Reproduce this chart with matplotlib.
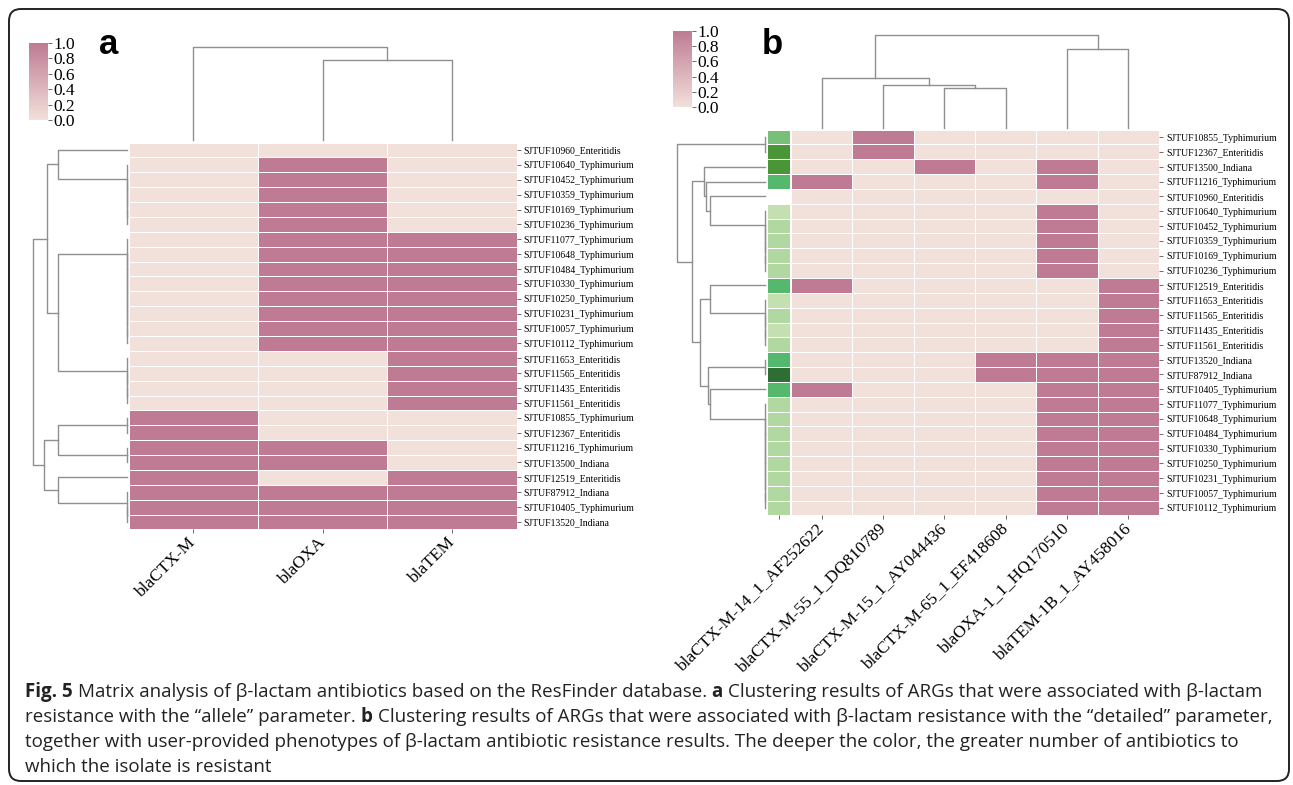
import numpy as np
import matplotlib
matplotlib.use("Agg")
import matplotlib.pyplot as plt
import matplotlib.colors as mcolors
from matplotlib.patches import FancyBboxPatch
from matplotlib import font_manager

W, H = 1293, 785

# ------------------------------
# Panel a: allele-level genes
# ------------------------------
genes_a = ["blaCTX-M", "blaOXA", "blaTEM"]
isolates_a = [
    "SJTUF10960_Enteritidis", "SJTUF10640_Typhimurium", "SJTUF10452_Typhimurium",
    "SJTUF10359_Typhimurium", "SJTUF10169_Typhimurium", "SJTUF10236_Typhimurium",
    "SJTUF11077_Typhimurium", "SJTUF10648_Typhimurium", "SJTUF10484_Typhimurium",
    "SJTUF10330_Typhimurium", "SJTUF10250_Typhimurium", "SJTUF10231_Typhimurium",
    "SJTUF10057_Typhimurium", "SJTUF10112_Typhimurium", "SJTUF11653_Enteritidis",
    "SJTUF11565_Enteritidis", "SJTUF11435_Enteritidis", "SJTUF11561_Enteritidis",
    "SJTUF10855_Typhimurium", "SJTUF12367_Enteritidis", "SJTUF11216_Typhimurium",
    "SJTUF13500_Indiana", "SJTUF12519_Enteritidis", "SJTUF87912_Indiana",
    "SJTUF10405_Typhimurium", "SJTUF13520_Indiana",
]
matrix_a = [
    [0, 0, 0],
    [0, 1, 0],
    [0, 1, 0],
    [0, 1, 0],
    [0, 1, 0],
    [0, 1, 0],
    [0, 1, 1],
    [0, 1, 1],
    [0, 1, 1],
    [0, 1, 1],
    [0, 1, 1],
    [0, 1, 1],
    [0, 1, 1],
    [0, 1, 1],
    [0, 0, 1],
    [0, 0, 1],
    [0, 0, 1],
    [0, 0, 1],
    [1, 0, 0],
    [1, 0, 0],
    [1, 1, 0],
    [1, 1, 0],
    [1, 0, 1],
    [1, 1, 1],
    [1, 1, 1],
    [1, 1, 1],
]

# ------------------------------
# Panel b: detailed genes + phenotype strip
# ------------------------------
genes_b = [
    "blaCTX-M-14_1_AF252622", "blaCTX-M-55_1_DQ810789", "blaCTX-M-15_1_AY044436",
    "blaCTX-M-65_1_EF418608", "blaOXA-1_1_HQ170510", "blaTEM-1B_1_AY458016",
]
isolates_b = [
    "SJTUF10855_Typhimurium", "SJTUF12367_Enteritidis", "SJTUF13500_Indiana",
    "SJTUF11216_Typhimurium", "SJTUF10960_Enteritidis", "SJTUF10640_Typhimurium",
    "SJTUF10452_Typhimurium", "SJTUF10359_Typhimurium", "SJTUF10169_Typhimurium",
    "SJTUF10236_Typhimurium", "SJTUF12519_Enteritidis", "SJTUF11653_Enteritidis",
    "SJTUF11565_Enteritidis", "SJTUF11435_Enteritidis", "SJTUF11561_Enteritidis",
    "SJTUF13520_Indiana", "SJTUF87912_Indiana", "SJTUF10405_Typhimurium",
    "SJTUF11077_Typhimurium", "SJTUF10648_Typhimurium", "SJTUF10484_Typhimurium",
    "SJTUF10330_Typhimurium", "SJTUF10250_Typhimurium", "SJTUF10231_Typhimurium",
    "SJTUF10057_Typhimurium", "SJTUF10112_Typhimurium",
]
matrix_b = [
    [0, 1, 0, 0, 0, 0],
    [0, 1, 0, 0, 0, 0],
    [0, 0, 1, 0, 1, 0],
    [1, 0, 0, 0, 1, 0],
    [0, 0, 0, 0, 0, 0],
    [0, 0, 0, 0, 1, 0],
    [0, 0, 0, 0, 1, 0],
    [0, 0, 0, 0, 1, 0],
    [0, 0, 0, 0, 1, 0],
    [0, 0, 0, 0, 1, 0],
    [1, 0, 0, 0, 0, 1],
    [0, 0, 0, 0, 0, 1],
    [0, 0, 0, 0, 0, 1],
    [0, 0, 0, 0, 0, 1],
    [0, 0, 0, 0, 0, 1],
    [0, 0, 0, 1, 1, 1],
    [0, 0, 0, 1, 1, 1],
    [1, 0, 0, 0, 1, 1],
    [0, 0, 0, 0, 1, 1],
    [0, 0, 0, 0, 1, 1],
    [0, 0, 0, 0, 1, 1],
    [0, 0, 0, 0, 1, 1],
    [0, 0, 0, 0, 1, 1],
    [0, 0, 0, 0, 1, 1],
    [0, 0, 0, 0, 1, 1],
    [0, 0, 0, 0, 1, 1],
]
# resistance level of each isolate (deeper green = more antibiotics), nan = no phenotype
resist_level = [3, 5, 5, 4, np.nan, 1, 2, 2, 2, 2, 4, 1, 2, 1, 2, 4, 6, 4,
                2, 2, 2, 2, 2, 2, 2, 2]
level_colors = ["#c4e0b0", "#b0d8a0", "#78c07a", "#54b96c", "#4a9636", "#2e6e32"]


def chain(leaves):
    # identical rows merge at zero distance
    if len(leaves) == 1:
        return leaves[0]
    return (0.0, leaves[0], chain(leaves[1:]))


# dendrograms as (height, left, right), leaves are row / column indices
row_tree_a = (1.37,
              (1.16, (1.0, 0, chain([1, 2, 3, 4, 5])),
                     (1.0, chain([6, 7, 8, 9, 10, 11, 12, 13]), chain([14, 15, 16, 17]))),
              (1.21, (1.0, chain([18, 19]), chain([20, 21])),
                     (1.0, 22, chain([23, 24, 25]))))
col_tree_a = (4.01, 0, (3.46, 1, 2))

row_tree_b = (1.60,
              chain([0, 1]),
              (1.32,
               (1.116, 2, (1.067, 3, (1.0, 4, chain([5, 6, 7, 8, 9])))),
               (1.175,
                (1.0, 10, chain([11, 12, 13, 14])),
                (1.043, chain([15, 16]),
                        (1.0, 17, chain([18, 19, 20, 21, 22, 23, 24, 25]))))))
col_tree_b = (3.98, (2.15, 0, (1.86, 1, (1.73, 2, 3))), (3.38, 4, 5))

caption = [
    [("Fig. 5", "bold"),
     ("Matrix analysis of β-lactam antibiotics based on the ResFinder database.", "normal"),
     ("a", "bold"),
     ("Clustering results of ARGs that were associated with β-lactam", "normal")],
    [("resistance with the “allele” parameter.", "normal"),
     ("b", "bold"),
     ("Clustering results of ARGs that were associated with β-lactam resistance with the “detailed” parameter,", "normal")],
    [("together with user-provided phenotypes of β-lactam antibiotic resistance results. The deeper the color, the greater number of antibiotics to", "normal")],
    [("which the isolate is resistant", "normal")],
]

# ------------------------------
# Styling
# ------------------------------
SERIF = "Liberation Serif"
installed = {f.name for f in font_manager.fontManager.ttflist}
CAP_FONT = [f for f in ["Liberation Sans Narrow", "Open Sans"] if f in installed] + ["DejaVu Sans"]
pink = mcolors.LinearSegmentedColormap.from_list("pink", ["#f2e0da", "#be7b93"])
DENDRO_COLOR = "#8f8f8f"

fig = plt.figure(figsize=(W / 100, H / 100), dpi=100)


def ax_px(x0, y0, x1, y1):
    return fig.add_axes([x0 / W, 1 - y1 / H, (x1 - x0) / W, (y1 - y0) / H])


# frame around the figure
bg = fig.add_axes([0, 0, 1, 1], zorder=-5)
bg.set_xlim(0, W)
bg.set_ylim(H, 0)
bg.axis("off")
bg.add_patch(FancyBboxPatch((9, 9), 1289 - 9, 781 - 9,
                            boxstyle="round,pad=0,rounding_size=12",
                            fc="white", ec="#222222", lw=1.4))


def draw_tree(ax, node, orient):
    if isinstance(node, int):
        return node + 0.5, 0.0
    h, left, right = node
    pl, hl = draw_tree(ax, left, orient)
    pr, hr = draw_tree(ax, right, orient)
    ps = [pl, pl, pr, pr]
    hs = [hl, h, h, hr]
    if orient == "top":
        ax.plot(ps, hs, color=DENDRO_COLOR, lw=1.0, clip_on=False)
    else:
        ax.plot(hs, ps, color=DENDRO_COLOR, lw=1.0, clip_on=False)
    return (pl + pr) / 2, h


def heatmap(box, data, rows, cols):
    ax = ax_px(*box)
    arr = np.array(data, dtype=float)
    ax.pcolormesh(arr, cmap=pink, vmin=0, vmax=1, edgecolors="white", linewidth=0.6)
    ax.set_xlim(0, arr.shape[1])
    ax.set_ylim(arr.shape[0], 0)
    for s in ax.spines.values():
        s.set_visible(False)
    ax.yaxis.tick_right()
    ax.set_yticks(np.arange(len(rows)) + 0.5)
    ax.set_yticklabels(rows, fontsize=7, family=SERIF)
    ax.set_xticks(np.arange(len(cols)) + 0.5)
    ax.set_xticklabels(cols, fontsize=12.5, family=SERIF, rotation=45,
                       ha="right", va="center", rotation_mode="anchor")
    ax.tick_params(axis="both", length=3, width=0.6, color="#555555", pad=2)
    ax.tick_params(axis="x", pad=5)
    return ax


def colorbar(box):
    cax = ax_px(*box)
    sm = plt.cm.ScalarMappable(cmap=pink, norm=mcolors.Normalize(0, 1))
    cb = fig.colorbar(sm, cax=cax)
    cb.outline.set_visible(False)
    cb.set_ticks([0, 0.2, 0.4, 0.6, 0.8, 1.0])
    cax.set_yticklabels([f"{v:.1f}" for v in [0, 0.2, 0.4, 0.6, 0.8, 1.0]],
                        fontsize=12.5, family=SERIF)
    cax.tick_params(length=3, width=0.6, color="#555555", pad=1)


# ---- panel a ----
heatmap((128.5, 142.6, 516.5, 529.4), matrix_a, isolates_a, genes_a)

rd = ax_px(33, 142.6, 127, 529.4)
draw_tree(rd, row_tree_a, "left")
rd.set_xlim(row_tree_a[0], 0)
rd.set_ylim(len(isolates_a), 0)
rd.axis("off")

cd = ax_px(128.5, 47, 516.5, 140)
draw_tree(cd, col_tree_a, "top")
cd.set_xlim(0, len(genes_a))
cd.set_ylim(0, col_tree_a[0])
cd.axis("off")

colorbar((29, 43, 48, 120))
fig.text(99 / W, 1 - 45 / H, "a", fontsize=25, fontweight="bold",
         family="Liberation Sans", va="center")

# ---- panel b ----
heatmap((791, 129.6, 1159, 515.4), matrix_b, isolates_b, genes_b)

strip = ax_px(767, 129.6, 790, 515.4)
lvl = np.array(resist_level, dtype=float).reshape(-1, 1)
green = mcolors.ListedColormap(level_colors)
green.set_bad("white")
strip.pcolormesh(np.ma.masked_invalid(lvl), cmap=green, vmin=0.5, vmax=6.5,
                 edgecolors="white", linewidth=0.6)
strip.set_xlim(0, 1)
strip.set_ylim(len(resist_level), 0)
for s in strip.spines.values():
    s.set_visible(False)
strip.set_yticks([])
strip.set_xticks([0.5])
strip.set_xticklabels([""])
strip.tick_params(axis="x", length=3, width=0.6, color="#555555")

rdb = ax_px(677, 129.6, 765, 515.4)
draw_tree(rdb, row_tree_b, "left")
rdb.set_xlim(row_tree_b[0], 0)
rdb.set_ylim(len(isolates_b), 0)
rdb.axis("off")

cdb = ax_px(791, 35, 1159, 128)
draw_tree(cdb, col_tree_b, "top")
cdb.set_xlim(0, len(genes_b))
cdb.set_ylim(0, col_tree_b[0])
cdb.axis("off")

colorbar((673, 31, 692, 107))
fig.text(762 / W, 1 - 44 / H, "b", fontsize=25, fontweight="bold",
         family="Liberation Sans", va="center")

# ---- caption ----
renderer = fig.canvas.get_renderer()


def text_width(s, size, weight):
    t = fig.text(0, 0, s, fontsize=size, fontweight=weight, family=CAP_FONT)
    w = t.get_window_extent(renderer=renderer).width
    t.remove()
    return w


def line_width(pieces, size):
    gap = text_width("a a", size, "normal") - text_width("aa", size, "normal")
    return sum(text_width(s, size, w) for s, w in pieces) + gap * (len(pieces) - 1)


base = 11
cap_size = base * (1237 / line_width(caption[0], base))
gap = text_width("a a", cap_size, "normal") - text_width("aa", cap_size, "normal")
for i, pieces in enumerate(caption):
    x = 25
    y = 692 + i * 25
    for s, wt in pieces:
        t = fig.text(x / W, 1 - y / H, s, fontsize=cap_size, fontweight=wt,
                     family=CAP_FONT, va="center", color="#222222")
        x += t.get_window_extent(renderer=renderer).width + gap

fig.savefig("out.png", dpi=100)
